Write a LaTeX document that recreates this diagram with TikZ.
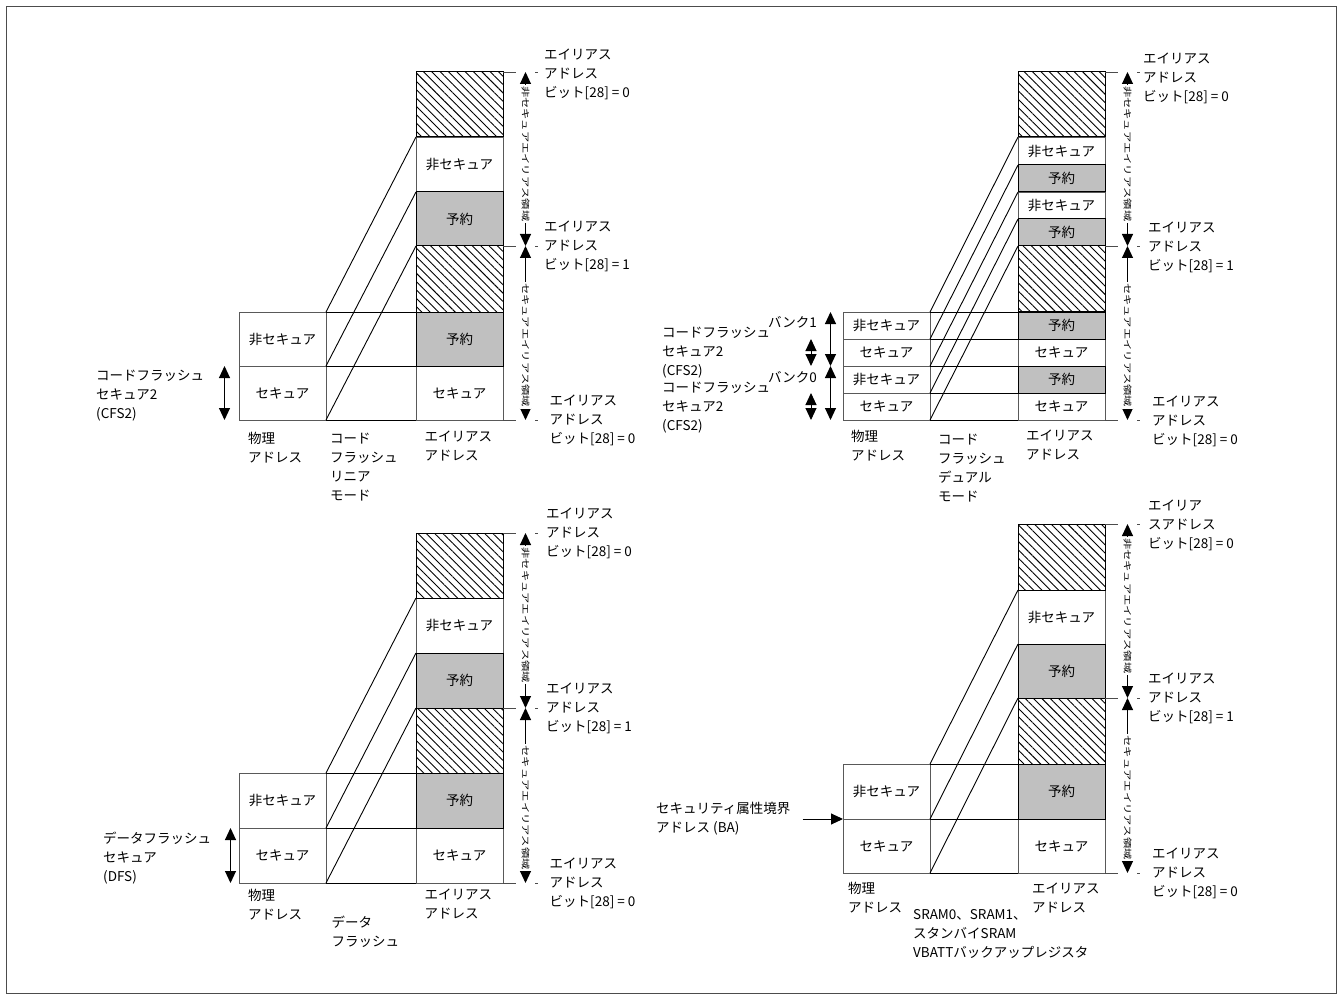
\documentclass[tikz,border=0pt]{standalone}
\usepackage{fontspec}
\setmainfont{Noto Sans CJK JP}
\usetikzlibrary{arrows.meta, patterns.meta}
\definecolor{rsvgray}{RGB}{192,192,192}
\newcommand\jfont{\fontsize{13.5}{19}\selectfont}
\newcommand\vtext[1]{\scalebox{1.33}[1]{\fontsize{8.5}{10}\selectfont #1}}
\tikzstyle{cell} = [
    rectangle,
    anchor=north west,
    inner sep=0pt,
    outer sep=0pt,
    minimum width=87pt,
    draw=black!65,
    line width=0.8pt
]
\tikzstyle{rsv} = [
    cell,
    fill=rsvgray,
    draw=black,
    line width=1pt
]
\tikzstyle{hatch} = [
    cell,
    pattern={Lines[angle=-45,distance=5.9pt,line width=0.9pt]},
    draw=black,
    line width=1pt
]
\tikzstyle{lbl} = [anchor=west, align=left, inner sep=0pt]
\tikzstyle{vlab} = [fill=white, inner sep=1.5pt, rotate=-90]
\tikzstyle{link} = [line width=0.9pt]
\tikzstyle{tick} = [black!70, line width=0.8pt, dash pattern=on 13pt off 19pt on 3pt off 50pt]
\tikzstyle{span} = [line width=1pt, arrows={Triangle[length=12pt,width=11pt]-Triangle[length=12pt,width=11pt]}]
\tikzstyle{arrow} = [line width=1pt, arrows={-Triangle[length=12pt,width=11pt]}]

\begin{document}
\begin{tikzpicture}[x=1pt, y=-1pt, font=\jfont]

\useasboundingbox (0,0) rectangle (1341,1000);
\draw [black!70, line width=0.8pt] (6.5,6.5) rectangle (1336.5,993.5);

% code flash linear mode
\node (p1ans) [cell, minimum height=55pt] at (416,137) {非セキュア};
\node (p1as) [cell, minimum height=54pt] at (416,366) {セキュア};
\node (p1ns) [cell, minimum height=54pt] at (239,312) {非セキュア};
\node (p1s) [cell, minimum height=54pt] at (239,366) {セキュア};
\node (p1h1) [hatch, minimum height=65pt] at (416,72) {};
\node (p1ar1) [rsv, minimum height=54pt] at (416,192) {予約};
\node (p1h2) [hatch, minimum height=66pt] at (416,246) {};
\node (p1ar2) [rsv, minimum height=54pt] at (416,312) {予約};

\draw [link] (p1ns.north east) -- (p1ar2.north west);
\draw [link] (p1s.north east) -- (p1as.north west);
\draw [link] (p1s.south east) -- (p1as.south west);
\draw [link] (p1ns.north east) -- (p1ans.north west);
\draw [link] (p1s.north east) -- (p1ar1.north west);
\draw [link] (p1s.south east) -- (p1ar1.south west);

\draw [tick] (p1h1.north east) -- ++(35,0);
\draw [tick] (p1h2.north east) -- ++(35,0);
\draw [tick] (p1as.south east) -- ++(35,0);
\draw [span] ([xshift=22.5pt]p1h1.north east) -- ([xshift=22.5pt]p1ar1.south east)
    node [vlab, pos=0.47] {\vtext{非セキュアエイリアス領域}};
\draw [span] ([xshift=22.5pt]p1h2.north east) -- ([xshift=22.5pt]p1as.south east)
    node [vlab, pos=0.57] {\vtext{セキュアエイリアス領域}};

\node (p1top) [lbl] at (544,74) {エイリアス\\アドレス\\ビット[28] = 0};
\node (p1mid) [lbl] at (544,246.5) {エイリアス\\アドレス\\ビット[28] = 1};
\node (p1bot) [lbl] at (549.5,420) {エイリアス\\アドレス\\ビット[28] = 0};

\node (p1cfs) [lbl] at (96,396) {コードフラッシュ\\セキュア2\\(CFS2)};
\draw [span] ([xshift=-14.5pt]p1s.north west) -- ([xshift=-14.5pt]p1s.south west);

\node (p1pa) [lbl] at (248,447.5) {物理\\アドレス};
\node (p1mode) [lbl] at (330,467) {コード\\フラッシュ\\リニア\\モード};
\node (p1aa) [lbl] at (424.5,446) {エイリアス\\アドレス};

% code flash dual mode
\node (p2ans1) [cell, minimum height=28pt] at (1018,137) {非セキュア};
\node (p2ans2) [cell, minimum height=27pt] at (1018,192) {非セキュア};
\node (p2as1) [cell, minimum height=27pt] at (1018,339) {セキュア};
\node (p2as2) [cell, minimum height=27pt] at (1018,393) {セキュア};
\node (p2ns1) [cell, minimum height=27pt] at (843,312) {非セキュア};
\node (p2s1) [cell, minimum height=27pt] at (843,339) {セキュア};
\node (p2ns0) [cell, minimum height=27pt] at (843,366) {非セキュア};
\node (p2s0) [cell, minimum height=27pt] at (843,393) {セキュア};
\node (p2h1) [hatch, minimum height=65pt] at (1018,72) {};
\node (p2ar1) [rsv, minimum height=27pt] at (1018,165) {予約};
\node (p2ar2) [rsv, minimum height=27pt] at (1018,219) {予約};
\node (p2h2) [hatch, minimum height=66pt] at (1018,246) {};
\node (p2ar3) [rsv, minimum height=27pt] at (1018,312) {予約};
\node (p2ar4) [rsv, minimum height=27pt] at (1018,366) {予約};

\draw [link] (p2ns1.north east) -- (p2ar3.north west);
\draw [link] (p2s1.north east) -- (p2as1.north west);
\draw [link] (p2ns0.north east) -- (p2ar4.north west);
\draw [link] (p2s0.north east) -- (p2as2.north west);
\draw [link] (p2s0.south east) -- (p2as2.south west);
\draw [link] (p2ns1.north east) -- (p2ans1.north west);
\draw [link] (p2s1.north east) -- (p2ar1.north west);
\draw [link] (p2ns0.north east) -- (p2ans2.north west);
\draw [link] (p2s0.north east) -- (p2ar2.north west);
\draw [link] (p2s0.south east) -- (p2ar2.south west);

\draw [tick] (p2h1.north east) -- ++(35,0);
\draw [tick] (p2h2.north east) -- ++(35,0);
\draw [tick] (p2as2.south east) -- ++(35,0);
\draw [span] ([xshift=22.5pt]p2h1.north east) -- ([xshift=22.5pt]p2ar2.south east)
    node [vlab, pos=0.47] {\vtext{非セキュアエイリアス領域}};
\draw [span] ([xshift=22.5pt]p2h2.north east) -- ([xshift=22.5pt]p2as2.south east)
    node [vlab, pos=0.57] {\vtext{セキュアエイリアス領域}};

\node (p2top) [lbl] at (1143,78) {エイリアス\\アドレス\\ビット[28] = 0};
\node (p2mid) [lbl] at (1148,247) {エイリアス\\アドレス\\ビット[28] = 1};
\node (p2bot) [lbl] at (1152,421.5) {エイリアス\\アドレス\\ビット[28] = 0};

\node (p2bank1) [lbl, anchor=east] at (817,322.5) {バンク1};
\node (p2cfs1) [lbl] at (662,353) {コードフラッシュ\\セキュア2\\(CFS2)};
\node (p2bank0) [lbl, anchor=east] at (817,377) {バンク0};
\node (p2cfs0) [lbl] at (662,408) {コードフラッシュ\\セキュア2\\(CFS2)};
\draw [span] ([xshift=-12.5pt]p2ns1.north west) -- ([xshift=-12.5pt]p2s1.south west);
\draw [span] ([xshift=-12.5pt]p2ns0.north west) -- ([xshift=-12.5pt]p2s0.south west);
\draw [span] ([xshift=-32pt]p2s1.north west) -- ([xshift=-32pt]p2s1.south west);
\draw [span] ([xshift=-32pt]p2s0.north west) -- ([xshift=-32pt]p2s0.south west);

\node (p2pa) [lbl] at (851,446) {物理\\アドレス};
\node (p2mode) [lbl] at (938,468) {コード\\フラッシュ\\デュアル\\モード};
\node (p2aa) [lbl] at (1026,445) {エイリアス\\アドレス};

% data flash
\node (p3ans) [cell, minimum height=55pt] at (416,598) {非セキュア};
\node (p3as) [cell, minimum height=55pt] at (416,828) {セキュア};
\node (p3ns) [cell, minimum height=55pt] at (239,773) {非セキュア};
\node (p3s) [cell, minimum height=55pt] at (239,828) {セキュア};
\node (p3h1) [hatch, minimum height=65pt] at (416,533) {};
\node (p3ar1) [rsv, minimum height=55pt] at (416,653) {予約};
\node (p3h2) [hatch, minimum height=65pt] at (416,708) {};
\node (p3ar2) [rsv, minimum height=55pt] at (416,773) {予約};

\draw [link] (p3ns.north east) -- (p3ar2.north west);
\draw [link] (p3s.north east) -- (p3as.north west);
\draw [link] (p3s.south east) -- (p3as.south west);
\draw [link] (p3ns.north east) -- (p3ans.north west);
\draw [link] (p3s.north east) -- (p3ar1.north west);
\draw [link] (p3s.south east) -- (p3ar1.south west);

\draw [tick] (p3h1.north east) -- ++(35,0);
\draw [tick] (p3h2.north east) -- ++(35,0);
\draw [tick] (p3as.south east) -- ++(35,0);
\draw [span] ([xshift=22.5pt]p3h1.north east) -- ([xshift=22.5pt]p3ar1.south east)
    node [vlab, pos=0.47] {\vtext{非セキュアエイリアス領域}};
\draw [span] ([xshift=22.5pt]p3h2.north east) -- ([xshift=22.5pt]p3as.south east)
    node [vlab, pos=0.57] {\vtext{セキュアエイリアス領域}};

\node (p3top) [lbl] at (546,533) {エイリアス\\アドレス\\ビット[28] = 0};
\node (p3mid) [lbl] at (546,708) {エイリアス\\アドレス\\ビット[28] = 1};
\node (p3bot) [lbl] at (549.5,883) {エイリアス\\アドレス\\ビット[28] = 0};

\node (p3dfs) [lbl] at (103,858.5) {データフラッシュ\\セキュア\\(DFS)};
\draw [span] ([xshift=-8.5pt]p3s.north west) -- ([xshift=-8.5pt]p3s.south west);

\node (p3pa) [lbl] at (248,905) {物理\\アドレス};
\node (p3mode) [lbl] at (331.5,932) {データ\\フラッシュ};
\node (p3aa) [lbl] at (424.5,904) {エイリアス\\アドレス};

% sram
\node (p4ans) [cell, minimum height=54pt] at (1018,590) {非セキュア};
\node (p4as) [cell, minimum height=54pt] at (1018,819) {セキュア};
\node (p4ns) [cell, minimum height=55pt] at (843,764) {非セキュア};
\node (p4s) [cell, minimum height=54pt] at (843,819) {セキュア};
\node (p4h1) [hatch, minimum height=66pt] at (1018,524) {};
\node (p4ar1) [rsv, minimum height=54pt] at (1018,644) {予約};
\node (p4h2) [hatch, minimum height=66pt] at (1018,698) {};
\node (p4ar2) [rsv, minimum height=55pt] at (1018,764) {予約};

\draw [link] (p4ns.north east) -- (p4ar2.north west);
\draw [link] (p4s.north east) -- (p4as.north west);
\draw [link] (p4s.south east) -- (p4as.south west);
\draw [link] (p4ns.north east) -- (p4ans.north west);
\draw [link] (p4s.north east) -- (p4ar1.north west);
\draw [link] (p4s.south east) -- (p4ar1.south west);

\draw [tick] (p4h1.north east) -- ++(35,0);
\draw [tick] (p4h2.north east) -- ++(35,0);
\draw [tick] (p4as.south east) -- ++(35,0);
\draw [span] ([xshift=22.5pt]p4h1.north east) -- ([xshift=22.5pt]p4ar1.south east)
    node [vlab, pos=0.47] {\vtext{非セキュアエイリアス領域}};
\draw [span] ([xshift=22.5pt]p4h2.north east) -- ([xshift=22.5pt]p4as.south east)
    node [vlab, pos=0.57] {\vtext{セキュアエイリアス領域}};

\node (p4top) [lbl] at (1148,525) {エイリア\\スアドレス\\ビット[28] = 0};
\node (p4mid) [lbl] at (1148,698) {エイリアス\\アドレス\\ビット[28] = 1};
\node (p4bot) [lbl] at (1152,873) {エイリアス\\アドレス\\ビット[28] = 0};

\node (p4ba) [lbl] at (656,818.5) {セキュリティ属性境界\\アドレス (BA)};
\coordinate (p4baS) at (802.5,819);
\draw [arrow] (p4baS) -- (p4s.north west);

\node (p4pa) [lbl] at (848,898) {物理\\アドレス};
\node (p4mode) [lbl] at (913,934) {SRAM0、SRAM1、\\スタンバイSRAM\\VBATTバックアップレジスタ};
\node (p4aa) [lbl] at (1032,898) {エイリアス\\アドレス};

\end{tikzpicture}
\end{document}
